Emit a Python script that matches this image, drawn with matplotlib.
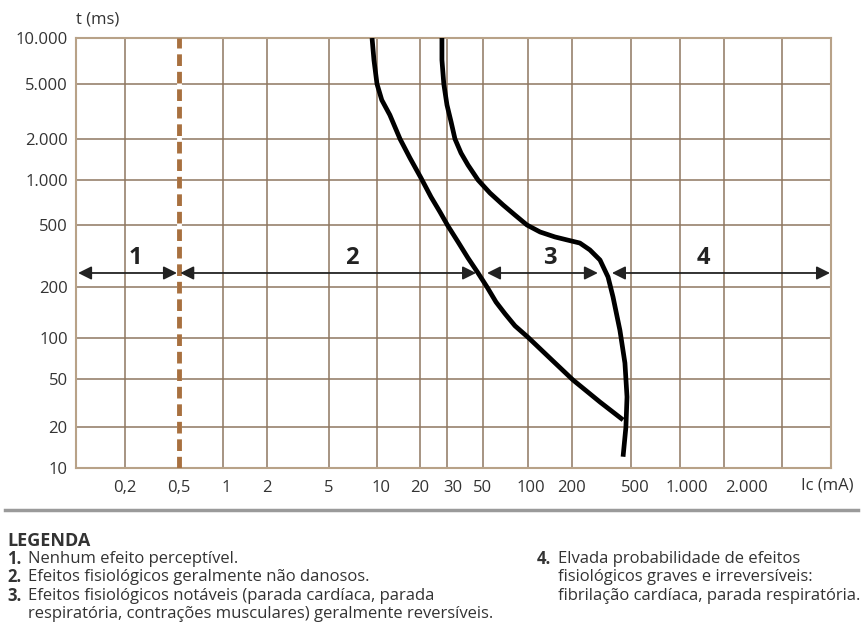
import numpy as np
import matplotlib.pyplot as plt
from matplotlib.transforms import ScaledTranslation

plt.rcParams['font.family'] = ['Open Sans', 'DejaVu Sans']

# axis ticks / labels
x_ticks = [0.2, 0.5, 1, 2, 5, 10, 20, 30, 50, 100, 200, 500, 1000, 2000]
x_labels = ['0,2', '0,5', '1', '2', '5', '10', '20', '30', '50', '100', '200', '500', '1.000', '2.000']
y_ticks = [10, 20, 50, 100, 200, 500, 1000, 2000, 5000, 10000]
y_labels = ['10', '20', '50', '100', '200', '500', '1.000', '2.000', '5.000', '10.000']

# boundary curves (Ic in mA, t in ms)
curve_a_ma = [9.31, 9.57, 10, 10.8, 12.3, 14.5, 17.0, 20.3, 23.6, 27.0, 30.4, 35.1, 40.4,
              46.6, 53.2, 61.1, 70.2, 81.8, 100, 141, 203, 309, 442]
curve_a_ms = [10000, 7180, 5000, 3830, 2985, 2000, 1452, 1035, 770, 611, 493, 389, 307,
              246, 200, 163, 139, 118, 101, 71.3, 49.1, 32.2, 22.9]

curve_b_ma = [27.8, 27.8, 28.6, 30, 31.8, 33.6, 36.6, 40.4, 46.6, 55.7, 68.1, 81.8, 98.4,
              121, 153, 185, 226, 264, 309, 350, 378, 421, 455, 470, 462, 442]
curve_b_ms = [10000, 7180, 5000, 3520, 2655, 2000, 1578, 1288, 1000, 818, 681, 583, 500,
              451, 419, 401, 383, 346, 298, 232, 175, 111, 65.5, 35.5, 20, 12.1]

# zones (start, end in mA) and labels
zone_names = ['1', '2', '3', '4']
zone_start = [0.103, 0.51, 53.2, 372]
zone_end = [0.483, 45.3, 299, 9860]
zone_label_ma = [0.237, 6.97, 141, 1436]
arrow_ms = 246
label_ms = 307
threshold_ma = 0.5

legend_left = [
    ('1.', 'Nenhum efeito perceptível.'),
    ('2.', 'Efeitos fisiológicos geralmente não danosos.'),
    ('3.', 'Efeitos fisiológicos notáveis (parada cardíaca, parada'),
    ('', 'respiratória, contrações musculares) geralmente reversíveis.'),
]
legend_right = [
    ('4.', 'Elvada probabilidade de efeitos'),
    ('', 'fisiológicos graves e irreversíveis:'),
    ('', 'fibrilação cardíaca, parada respiratória.'),
]

# hand-drawn axis: where each grid value sits (pixels)
x_anchor_val = [0.1, 0.2, 0.5, 1, 2, 5, 10, 20, 30, 50, 100, 200, 500, 1000, 2000, 5000, 10000]
x_anchor_px = [76, 125, 179, 223, 267, 329, 377, 420, 447, 483, 528, 572, 631, 680, 724, 782, 831]
y_anchor_px = [0, 41, 89, 130, 181, 243, 288, 329, 384, 430]


def make_scale(vals, px):
    lv = np.log10(vals)
    p = np.array(px, float)

    def fwd(v):
        v = np.clip(np.asarray(v, float), 1e-6, None)
        return np.interp(np.log10(v), lv, p)

    def inv(q):
        return 10 ** np.interp(np.asarray(q, float), p, lv)
    return fwd, inv


W, H = 868, 628
fig = plt.figure(figsize=(W / 100, H / 100), dpi=100)
ax = fig.add_axes([76 / W, 1 - 468 / H, 755 / W, 430 / H])

ax.set_xscale('function', functions=make_scale(x_anchor_val, x_anchor_px))
ax.set_yscale('function', functions=make_scale(y_ticks, y_anchor_px))
ax.set_xlim(0.1, 10000)
ax.set_ylim(10, 10000)

grid_c = '#8e7660'
for v in x_anchor_val[1:-1]:
    if v != threshold_ma:
        ax.axvline(v, color=grid_c, lw=1.1, zorder=1)
for v in y_ticks[1:-1]:
    ax.axhline(v, color=grid_c, lw=1.1, zorder=1)

ax.axvline(threshold_ma, color='white', lw=3.5, zorder=2)
ax.axvline(threshold_ma, color='#a8703f', lw=3.5, linestyle=(0, (2.4, 1.2)), zorder=3)

for s in ax.spines.values():
    s.set_color('#b8a288')
    s.set_linewidth(1.5)

ax.plot(curve_a_ma, curve_a_ms, color='black', lw=3.4, zorder=5,
        solid_capstyle='butt', solid_joinstyle='round')
ax.plot(curve_b_ma, curve_b_ms, color='black', lw=3.4, zorder=5,
        solid_capstyle='butt', solid_joinstyle='round')

for name, a, b, lx in zip(zone_names, zone_start, zone_end, zone_label_ma):
    ax.annotate('', xy=(b, arrow_ms), xytext=(a, arrow_ms),
                arrowprops=dict(arrowstyle='<|-|>,head_length=0.4,head_width=0.2',
                                color='#222222', lw=1.3, shrinkA=0, shrinkB=0,
                                mutation_scale=20), zorder=6)
    ax.text(lx, label_ms, name, ha='center', va='center', fontsize=17,
            fontweight='bold', color='#222222', zorder=6)

ax.set_xticks(x_ticks, x_labels)
ax.set_yticks(y_ticks, y_labels)
ax.minorticks_off()
ax.tick_params(axis='both', length=0, labelsize=12, labelcolor='#333333')
ax.tick_params(axis='x', pad=9)
ax.tick_params(axis='y', pad=6)

label_shift = [0, 0, 3, 0, 0, 4, 0, 6, 0, 3, 0, 4, 7, 23]
for lab, dx in zip(ax.get_xticklabels(), label_shift):
    lab.set_transform(lab.get_transform() + ScaledTranslation(dx / 100, 0, fig.dpi_scale_trans))

fig.text(76 / W, 1 - 20 / H, 't (ms)', ha='left', va='center', fontsize=12, color='#333333')
fig.text(827 / W, 1 - 486 / H, 'Ic (mA)', ha='center', va='center', fontsize=12, color='#333333')

fig.add_artist(plt.Line2D([5 / W, 858 / W], [1 - 510 / H, 1 - 510 / H],
                          color='#9a9a9a', lw=2.5))

fig.text(7 / W, 1 - 541 / H, 'LEGENDA', ha='left', va='center', fontsize=13,
         fontweight='bold', color='#333333')
rows = [559, 577, 596, 614]
for (num, txt), y in zip(legend_left, rows):
    if num:
        fig.text(7 / W, 1 - y / H, num, ha='left', va='center', fontsize=12,
                 fontweight='bold', color='#333333')
    fig.text(28 / W, 1 - y / H, txt, ha='left', va='center', fontsize=12, color='#333333')
for (num, txt), y in zip(legend_right, rows):
    if num:
        fig.text(537 / W, 1 - y / H, num, ha='left', va='center', fontsize=12,
                 fontweight='bold', color='#333333')
    fig.text(558 / W, 1 - y / H, txt, ha='left', va='center', fontsize=12, color='#333333')

fig.savefig('out.png', dpi=100)
